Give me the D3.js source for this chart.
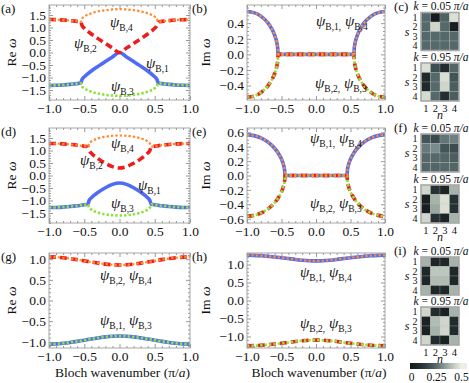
<!DOCTYPE html>
<html><head><meta charset="utf-8">
<script src="https://cdn.jsdelivr.net/npm/d3@7"></script>
<style>
body{margin:0;background:#fff}
svg{display:block}
text{font-family:"Liberation Serif","Times New Roman",serif;fill:#111}
</style>
</head><body>
<svg id="c" width="469" height="383" font-family="Liberation Serif, serif"></svg>
<script>
// ---------------- data ----------------
const xTicks = [-1, -0.5, 0, 0.5, 1];
const yTicksRe = [-1.5, -1, -0.5, 0, 0.5, 1, 1.5];
const yTicksImB = [-0.4, -0.2, 0, 0.2, 0.4];
const yTicksImE = [-0.6, -0.4, -0.2, 0, 0.2, 0.4, 0.6];
const yTicksRow3 = [-1, -0.5, 0, 0.5, 1];

// row 1 : panels (a), (b)
const kRow1 = [-1,-0.9,-0.8,-0.7,-0.65,-0.6,-0.57,-0.555,-0.55,-0.53,-0.5,-0.4,-0.3,-0.2,-0.1,0,0.1,0.2,0.3,0.4,0.5,0.53,0.55,0.555,0.57,0.6,0.65,0.7,0.8,0.9,1];
const reA_B1 = [-1.318,-1.313,-1.299,-1.276,-1.261,-1.244,-1.233,-1.227,-1.225,-1.073,-0.974,-0.741,-0.545,-0.360,-0.179,0,-0.179,-0.360,-0.545,-0.741,-0.974,-1.073,-1.225,-1.227,-1.233,-1.244,-1.261,-1.276,-1.299,-1.313,-1.318];
const reA_B2 = [1.318,1.313,1.299,1.276,1.261,1.244,1.233,1.227,1.225,1.073,0.974,0.741,0.545,0.360,0.179,0,0.179,0.360,0.545,0.741,0.974,1.073,1.225,1.227,1.233,1.244,1.261,1.276,1.299,1.313,1.318];
const reA_B3 = [-1.318,-1.313,-1.299,-1.276,-1.261,-1.244,-1.233,-1.227,-1.225,-1.360,-1.432,-1.566,-1.644,-1.694,-1.723,-1.732,-1.723,-1.694,-1.644,-1.566,-1.432,-1.360,-1.225,-1.227,-1.233,-1.244,-1.261,-1.276,-1.299,-1.313,-1.318];
const reA_B4 = [1.318,1.313,1.299,1.276,1.261,1.244,1.233,1.227,1.225,1.360,1.432,1.566,1.644,1.694,1.723,1.732,1.723,1.694,1.644,1.566,1.432,1.360,1.225,1.227,1.233,1.244,1.261,1.276,1.299,1.313,1.318];
const imB_B1 = [0.549,0.535,0.490,0.406,0.341,0.247,0.159,0.080,0,0,0,0,0,0,0,0,0,0,0,0,0,0,0,0.080,0.159,0.247,0.341,0.406,0.490,0.535,0.549];
const imB_B2 = [-0.549,-0.535,-0.490,-0.406,-0.341,-0.247,-0.159,-0.080,0,0,0,0,0,0,0,0,0,0,0,0,0,0,0,-0.080,-0.159,-0.247,-0.341,-0.406,-0.490,-0.535,-0.549];
const imB_B3 = [-0.549,-0.535,-0.490,-0.406,-0.341,-0.247,-0.159,-0.080,0,0,0,0,0,0,0,0,0,0,0,0,0,0,0,-0.080,-0.159,-0.247,-0.341,-0.406,-0.490,-0.535,-0.549];
const imB_B4 = [0.549,0.535,0.490,0.406,0.341,0.247,0.159,0.080,0,0,0,0,0,0,0,0,0,0,0,0,0,0,0,0.080,0.159,0.247,0.341,0.406,0.490,0.535,0.549];

// row 2 : panels (d), (e)
const kRow2 = [-1,-0.9,-0.8,-0.7,-0.6,-0.55,-0.5,-0.47,-0.455,-0.45,-0.43,-0.4,-0.3,-0.2,-0.1,0,0.1,0.2,0.3,0.4,0.43,0.45,0.455,0.47,0.5,0.55,0.6,0.7,0.8,0.9,1];
const reD_B1 = [-1.282,-1.277,-1.264,-1.242,-1.212,-1.193,-1.173,-1.160,-1.153,-1.151,-0.995,-0.894,-0.665,-0.489,-0.356,-0.300,-0.356,-0.489,-0.665,-0.894,-0.995,-1.151,-1.153,-1.160,-1.173,-1.193,-1.212,-1.242,-1.264,-1.277,-1.282];
const reD_B2 = [1.282,1.277,1.264,1.242,1.212,1.193,1.173,1.160,1.153,1.151,0.995,0.894,0.665,0.489,0.356,0.300,0.356,0.489,0.665,0.894,0.995,1.151,1.153,1.160,1.173,1.193,1.212,1.242,1.264,1.277,1.282];
const reD_B3 = [-1.282,-1.277,-1.264,-1.242,-1.212,-1.193,-1.173,-1.160,-1.153,-1.151,-1.288,-1.360,-1.486,-1.553,-1.589,-1.600,-1.589,-1.553,-1.486,-1.360,-1.288,-1.151,-1.153,-1.160,-1.173,-1.193,-1.212,-1.242,-1.264,-1.277,-1.282];
const reD_B4 = [1.282,1.277,1.264,1.242,1.212,1.193,1.173,1.160,1.153,1.151,1.288,1.360,1.486,1.553,1.589,1.600,1.589,1.553,1.486,1.360,1.288,1.151,1.153,1.160,1.173,1.193,1.212,1.242,1.264,1.277,1.282];
const imE_B1 = [0.564,0.554,0.523,0.467,0.379,0.315,0.227,0.145,0.073,0,0,0,0,0,0,0,0,0,0,0,0,0,0.073,0.145,0.227,0.315,0.379,0.467,0.523,0.554,0.564];
const imE_B2 = [-0.564,-0.554,-0.523,-0.467,-0.379,-0.315,-0.227,-0.145,-0.073,0,0,0,0,0,0,0,0,0,0,0,0,0,-0.073,-0.145,-0.227,-0.315,-0.379,-0.467,-0.523,-0.554,-0.564];
const imE_B3 = [-0.564,-0.554,-0.523,-0.467,-0.379,-0.315,-0.227,-0.145,-0.073,0,0,0,0,0,0,0,0,0,0,0,0,0,-0.073,-0.145,-0.227,-0.315,-0.379,-0.467,-0.523,-0.554,-0.564];
const imE_B4 = [0.564,0.554,0.523,0.467,0.379,0.315,0.227,0.145,0.073,0,0,0,0,0,0,0,0,0,0,0,0,0,0.073,0.145,0.227,0.315,0.379,0.467,0.523,0.554,0.564];

// row 3 : panels (g), (h)
const kRow3 = [-1,-0.9,-0.8,-0.7,-0.6,-0.5,-0.4,-0.3,-0.2,-0.1,0,0.1,0.2,0.3,0.4,0.5,0.6,0.7,0.8,0.9,1];
const reG_B1 = [-1.055,-1.05,-1.035,-1.015,-0.99,-0.96,-0.93,-0.905,-0.88,-0.865,-0.86,-0.865,-0.88,-0.905,-0.93,-0.96,-0.99,-1.015,-1.035,-1.05,-1.055];
const reG_B2 = [1.055,1.05,1.035,1.015,0.99,0.96,0.93,0.905,0.88,0.865,0.86,0.865,0.88,0.905,0.93,0.96,0.99,1.015,1.035,1.05,1.055];
const reG_B3 = [-1.055,-1.05,-1.035,-1.015,-0.99,-0.96,-0.93,-0.905,-0.88,-0.865,-0.86,-0.865,-0.88,-0.905,-0.93,-0.96,-0.99,-1.015,-1.035,-1.05,-1.055];
const reG_B4 = [1.055,1.05,1.035,1.015,0.99,0.96,0.93,0.905,0.88,0.865,0.86,0.865,0.88,0.905,0.93,0.96,0.99,1.015,1.035,1.05,1.055];
const imH_B1 = [1.26,1.255,1.245,1.23,1.21,1.19,1.165,1.14,1.12,1.105,1.10,1.105,1.12,1.14,1.165,1.19,1.21,1.23,1.245,1.255,1.26];
const imH_B2 = [-1.26,-1.255,-1.245,-1.23,-1.21,-1.19,-1.165,-1.14,-1.12,-1.105,-1.10,-1.105,-1.12,-1.14,-1.165,-1.19,-1.21,-1.23,-1.245,-1.255,-1.26];
const imH_B3 = [-1.26,-1.255,-1.245,-1.23,-1.21,-1.19,-1.165,-1.14,-1.12,-1.105,-1.10,-1.105,-1.12,-1.14,-1.165,-1.19,-1.21,-1.23,-1.245,-1.255,-1.26];
const imH_B4 = [1.26,1.255,1.245,1.23,1.21,1.19,1.165,1.14,1.12,1.105,1.10,1.105,1.12,1.14,1.165,1.19,1.21,1.23,1.245,1.255,1.26];

// heat maps |psi|^2 : rows s = 1..4, columns n = 1..4
const heatC_k005 = [[0.25,0.02,0.23,0.47],[0.25,0.45,0.25,0.03],[0.25,0.25,0.25,0.25],[0.25,0.25,0.25,0.25]];
const heatC_k095 = [[0.47,0.18,0.08,0.24],[0.07,0.25,0.47,0.20],[0.07,0.25,0.45,0.22],[0.46,0.25,0.09,0.22]];
const heatF_k005 = [[0.20,0.17,0.27,0.29],[0.28,0.31,0.20,0.18],[0.25,0.25,0.24,0.22],[0.24,0.24,0.25,0.24]];
const heatF_k095 = [[0.45,0.10,0.05,0.38],[0.03,0.38,0.47,0.10],[0.03,0.36,0.47,0.10],[0.45,0.10,0.05,0.38]];
const heatI_k005 = [[0.38,0.06,0.06,0.38],[0.06,0.42,0.42,0.06],[0.06,0.40,0.40,0.06],[0.38,0.06,0.06,0.38]];
const heatI_k095 = [[0.45,0.08,0.04,0.38],[0.04,0.40,0.45,0.08],[0.04,0.38,0.45,0.08],[0.45,0.08,0.04,0.38]];
const idxLabels = ["1","2","3","4"];
const cbTicks = [0, 0.25, 0.5];

// ---------------- drawing ----------------
const FONT = "Liberation Serif, Times New Roman, serif";
const svg = d3.select("#c");
const fmt = d3.format(".1f");
const styles = {
  B1: {stroke:"#3d5cf5", width:3.6, dash:null, op:0.9},
  B2: {stroke:"#ee1d1d", width:3.6, dash:"7,4", op:1},
  B3: {stroke:"#8fe23a", width:2.6, dash:"2.4,2", op:1},
  B4: {stroke:"#ff8b2c", width:2.2, dash:"2.4,2", op:1}
};
let clipId = 0;

function panel(cfg){
  const x = d3.scaleLinear().domain([-1,1]).range([cfg.x0,cfg.x1]);
  const y = d3.scaleLinear().domain(cfg.yd).range([cfg.y1,cfg.y0]);
  const g = svg.append("g");
  const id = "clip"+(clipId++);
  svg.append("clipPath").attr("id",id).append("rect")
    .attr("x",cfg.x0).attr("y",cfg.y0).attr("width",cfg.x1-cfg.x0).attr("height",cfg.y1-cfg.y0);
  const lg = g.append("g").attr("clip-path","url(#"+id+")");
  const line = d3.line().x((d,i)=>x(cfg.k[i])).y(d=>y(d)).curve(d3.curveMonotoneX);
  ["B1","B2","B3","B4"].forEach(s=>{
    const st = styles[s];
    lg.append("path").attr("d",line(cfg.series[s])).attr("fill","none")
      .attr("stroke",st.stroke).attr("stroke-width",st.width).attr("stroke-opacity",st.op)
      .attr("stroke-dasharray",st.dash);
  });
  // frame
  g.append("rect").attr("x",cfg.x0).attr("y",cfg.y0).attr("width",cfg.x1-cfg.x0).attr("height",cfg.y1-cfg.y0)
    .attr("fill","none").attr("stroke","#a8a8a8").attr("stroke-width",1);
  const xMinor = d3.range(-1,1.0001,0.1).filter(v=>!xTicks.some(t=>Math.abs(t-v)<1e-6));
  const yMinor = d3.range(-3,3.0001,cfg.yMinorStep).filter(v=>v>=cfg.yd[0]&&v<=cfg.yd[1]&&!cfg.yTicks.some(t=>Math.abs(t-v)<1e-6));
  function styleAxis(a){ a.attr("font-family",FONT); a.select(".domain").remove(); a.selectAll("line").attr("stroke","#9a9a9a"); a.selectAll("text").attr("font-size",13.5).attr("fill","#111"); }
  // bottom
  g.append("g").attr("transform",`translate(0,${cfg.y1})`).call(d3.axisBottom(x).tickValues(xTicks).tickSize(-4).tickPadding(3).tickFormat(fmt)).call(styleAxis);
  g.append("g").attr("transform",`translate(0,${cfg.y1})`).call(d3.axisBottom(x).tickValues(xMinor).tickSize(-2).tickFormat("")).call(styleAxis);
  // top
  g.append("g").attr("transform",`translate(0,${cfg.y0})`).call(d3.axisTop(x).tickValues(xTicks).tickSize(-4).tickFormat("")).call(styleAxis);
  g.append("g").attr("transform",`translate(0,${cfg.y0})`).call(d3.axisTop(x).tickValues(xMinor).tickSize(-2).tickFormat("")).call(styleAxis);
  // left
  g.append("g").attr("transform",`translate(${cfg.x0},0)`).call(d3.axisLeft(y).tickValues(cfg.yTicks).tickSize(-4).tickPadding(3).tickFormat(fmt)).call(styleAxis);
  g.append("g").attr("transform",`translate(${cfg.x0},0)`).call(d3.axisLeft(y).tickValues(yMinor).tickSize(-2).tickFormat("")).call(styleAxis);
  // right
  g.append("g").attr("transform",`translate(${cfg.x1},0)`).call(d3.axisRight(y).tickValues(cfg.yTicks).tickSize(-4).tickFormat("")).call(styleAxis);
  g.append("g").attr("transform",`translate(${cfg.x1},0)`).call(d3.axisRight(y).tickValues(yMinor).tickSize(-2).tickFormat("")).call(styleAxis);
  // y label
  const yl = g.append("text").attr("transform",`translate(${cfg.ylx},${(cfg.y0+cfg.y1)/2}) rotate(-90)`)
    .attr("text-anchor","middle").attr("font-size",13.5);
  yl.append("tspan").text(cfg.ylab+" ");
  yl.append("tspan").attr("font-style","italic").text("ω");
  // panel letter
  g.append("text").attr("x",cfg.lx).attr("y",cfg.y0+8).attr("font-size",13).text(cfg.letter);
  // psi labels
  cfg.psi.forEach(p=>{
    const t = g.append("text").attr("x",p[0]).attr("y",p[1]).attr("font-size",15);
    p[2].forEach((sub,i)=>{
      t.append("tspan").attr("font-style","italic").attr("dy", i===0?0:-4).attr("font-size",15).text((i>0?" ":"")+"ψ");
      t.append("tspan").attr("font-size",9.5).attr("dy",4).text(sub + (i<p[2].length-1?",":""));
    });
  });
  if(cfg.xlabel){
    const t = g.append("text").attr("x",(cfg.x0+cfg.x1)/2+3).attr("y",cfg.y1+29).attr("text-anchor","middle").attr("font-size",13.5);
    t.append("tspan").text("Bloch wavenumber (");
    t.append("tspan").text("π/");
    t.append("tspan").attr("font-style","italic").text("a");
    t.append("tspan").text(")");
  }
}

const X_L = [49,190], X_M = [247,385];
const ROWS = [[5,100],[128,223],[253,348]];

panel({x0:X_L[0],x1:X_L[1],y0:ROWS[0][0],y1:ROWS[0][1],yd:[-1.9,1.9],yTicks:yTicksRe,yMinorStep:0.1,k:kRow1,
  series:{B1:reA_B1,B2:reA_B2,B3:reA_B3,B4:reA_B4},ylab:"Re",ylx:16,letter:"(a)",lx:1,
  psi:[[110,27,["B,4"]],[74,48,["B,2"]],[146,68,["B,1"]],[111,91,["B,3"]]]});
panel({x0:X_M[0],x1:X_M[1],y0:ROWS[0][0],y1:ROWS[0][1],yd:[-0.585,0.633],yTicks:yTicksImB,yMinorStep:0.05,k:kRow1,
  series:{B1:imB_B1,B2:imB_B2,B3:imB_B3,B4:imB_B4},ylab:"Im",ylx:210,letter:"(b)",lx:192,
  psi:[[316,26,["B,1","B,4"]],[315,88,["B,2","B,3"]]]});
panel({x0:X_L[0],x1:X_L[1],y0:ROWS[1][0],y1:ROWS[1][1],yd:[-1.9,1.9],yTicks:yTicksRe,yMinorStep:0.1,k:kRow2,
  series:{B1:reD_B1,B2:reD_B2,B3:reD_B3,B4:reD_B4},ylab:"Re",ylx:16,letter:"(d)",lx:1,
  psi:[[111,148,["B,4"]],[80,165,["B,2"]],[138,190,["B,1"]],[111,208,["B,3"]]]});
panel({x0:X_M[0],x1:X_M[1],y0:ROWS[1][0],y1:ROWS[1][1],yd:[-0.66,0.66],yTicks:yTicksImE,yMinorStep:0.05,k:kRow2,
  series:{B1:imE_B1,B2:imE_B2,B3:imE_B3,B4:imE_B4},ylab:"Im",ylx:210,letter:"(e)",lx:192,
  psi:[[310,143,["B,1","B,4"]],[310,208,["B,2","B,3"]]]});
panel({x0:X_L[0],x1:X_L[1],y0:ROWS[2][0],y1:ROWS[2][1],yd:[-1.15,1.15],yTicks:yTicksRow3,yMinorStep:0.1,k:kRow3,
  series:{B1:reG_B1,B2:reG_B2,B3:reG_B3,B4:reG_B4},ylab:"Re",ylx:16,letter:"(g)",lx:1,xlabel:true,
  psi:[[100,280,["B,2","B,4"]],[100,325,["B,1","B,3"]]]});
panel({x0:X_M[0],x1:X_M[1],y0:ROWS[2][0],y1:ROWS[2][1],yd:[-1.32,1.32],yTicks:yTicksRow3,yMinorStep:0.1,k:kRow3,
  series:{B1:imH_B1,B2:imH_B2,B3:imH_B3,B4:imH_B4},ylab:"Im",ylx:210,letter:"(h)",lx:192,xlabel:true,
  psi:[[300,277,["B,1","B,4"]],[300,328,["B,2","B,3"]]]});

// heat maps
const cmap = d3.scaleLinear().domain([0,0.125,0.25,0.375,0.5]).range(["#131819","#2b373a","#55696b","#a2b1a9","#eeefe2"]).clamp(true);
const HX = 421, HS = 38;
const band = d3.scaleBand().domain(idxLabels).range([0,HS]);

function heat(y0, mat, kText, showCols){
  const g = svg.append("g").attr("transform",`translate(${HX},${y0})`);
  mat.forEach((row,si)=>row.forEach((v,ni)=>{
    g.append("rect").attr("x",band(idxLabels[ni])).attr("y",band(idxLabels[si]))
      .attr("width",band.bandwidth()).attr("height",band.bandwidth())
      .attr("fill",cmap(v)).attr("stroke","rgba(190,195,190,0.4)").attr("stroke-width",0.6);
  }));
  g.append("rect").attr("width",HS).attr("height",HS).attr("fill","none").attr("stroke","#a9a9a9").attr("stroke-width",1.6);
  idxLabels.forEach(l=>{
    g.append("text").attr("x",-3.5).attr("y",band(l)+band.bandwidth()/2+3.3).attr("text-anchor","end").attr("font-size",10).text(l);
  });
  g.append("text").attr("x",-14).attr("y",HS/2+4).attr("text-anchor","middle").attr("font-size",12).attr("font-style","italic").text("s");
  const t = g.append("text").attr("x",HS/2+1).attr("y",-2.5).attr("text-anchor","middle").attr("font-size",11.5);
  t.append("tspan").attr("font-style","italic").text("k");
  t.append("tspan").text(" = "+kText+" ");
  t.append("tspan").attr("font-style","italic").text("π/a");
  if(showCols){
    idxLabels.forEach(l=>{
      g.append("text").attr("x",band(l)+band.bandwidth()/2).attr("y",HS+10.5).attr("text-anchor","middle").attr("font-size",10.5).text(l);
    });
    g.append("text").attr("x",HS/2).attr("y",HS+17.5).attr("text-anchor","middle").attr("font-size",12).attr("font-style","italic").text("n");
  }
}
function heatLetter(y, letter){ svg.append("text").attr("x",394).attr("y",y).attr("font-size",13).text(letter); }

heat(12.5, heatC_k005, "0.05", false); heat(63, heatC_k095, "0.95", true); heatLetter(11,"(c)");
heat(134, heatF_k005, "0.05", false); heat(185, heatF_k095, "0.95", true); heatLetter(132,"(f)");
heat(257, heatI_k005, "0.05", false); heat(307, heatI_k095, "0.95", true); heatLetter(255,"(i)");

// colorbar
const cbx = d3.scaleLinear().domain([0,0.5]).range([411,461]);
const defs = svg.append("defs");
const grad = defs.append("linearGradient").attr("id","cbg");
d3.range(0,1.0001,0.1).forEach(f=>{
  const v = cbx.invert(410 + f*57);
  grad.append("stop").attr("offset",f).attr("stop-color",cmap(v));
});
svg.append("rect").attr("x",410).attr("y",363).attr("width",57).attr("height",6).attr("fill","url(#cbg)");
const cbAxis = svg.append("g").attr("transform","translate(0,369)").call(d3.axisBottom(cbx).tickValues(cbTicks).tickSize(0).tickPadding(4).tickFormat(d=>d===0?"0":d===0.5?"0.5":"0.25"));
cbAxis.attr("font-family",FONT);
cbAxis.select(".domain").remove();
cbAxis.selectAll("text").attr("font-size",11.5).attr("fill","#111");
</script>
</body></html>
